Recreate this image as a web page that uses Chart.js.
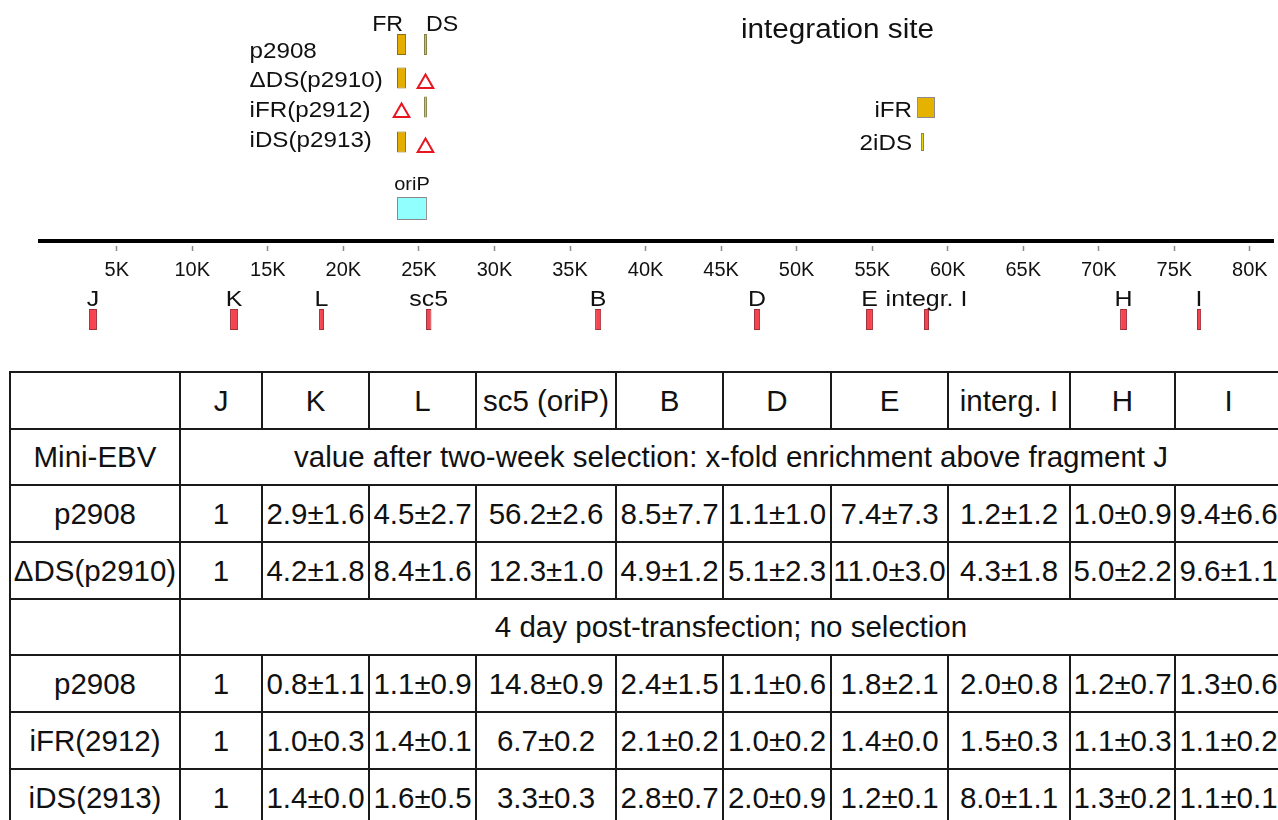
<!DOCTYPE html>
<html>
<head>
<meta charset="utf-8">
<script src="https://cdn.jsdelivr.net/npm/chart.js@4/dist/chart.umd.min.js"></script>
<style>
  html, body { margin: 0; padding: 0; background: #fff; width: 1278px; height: 820px; overflow: hidden; }
  #mapBox { position: absolute; left: 0; top: 0; width: 1278px; height: 350px; }
  #tbl { position: absolute; left: 9px; top: 371px; border-collapse: collapse; table-layout: fixed;
         font-family: "Liberation Sans", Arial, Helvetica, sans-serif; font-size: 29.5px; color: #111; }
  #tbl td { border: 2px solid #1a1a1a; padding: 0; text-align: center; vertical-align: middle;
            white-space: nowrap; overflow: visible; }
</style>
</head>
<body>
<div id="mapBox"><canvas id="map"></canvas></div>
<table id="tbl"></table>
<script>
// ---------------- data: genome map (positions in kb) ----------------
const tickValuesK = [5, 10, 15, 20, 25, 30, 35, 40, 45, 50, 55, 60, 65, 70, 75, 80];
const tickLabels  = ['5K','10K','15K','20K','25K','30K','35K','40K','45K','50K','55K','60K','65K','70K','75K','80K'];

const fragmentNames  = ['J', 'K', 'L', 'sc5', 'B', 'D', 'E', 'integr. I', 'H', 'I'];
const fragmentStartK = [3.16, 12.50, 18.39, 25.47, 36.66, 47.18, 54.59, 58.43, 71.41, 76.50];
const fragmentEndK   = [3.69, 13.03, 18.72, 25.83, 37.06, 47.58, 55.05, 58.76, 71.87, 76.77];

const constructNames = ['p2908', '\u0394DS(p2910)', 'iFR(p2912)', 'iDS(p2913)'];
const frPresent      = [true, true, false, true];
const dsPresent      = [true, false, true, false];

const frRangeK   = [23.55, 24.15];
const dsRangeK   = [25.34, 25.53];
const oriPRangeK = [23.55, 25.53];
const siteFRRangeK  = [57.97, 59.16];
const site2iDSRangeK = [58.23, 58.43];

// ---------------- data: enrichment table ----------------
const tableColumns = ['J', 'K', 'L', 'sc5 (oriP)', 'B', 'D', 'E', 'interg. I', 'H', 'I'];
const selectionTitle = 'value after two-week selection: x-fold enrichment above fragment J';
const transientTitle = '4 day post-transfection; no selection';
const selectionRows = ['p2908', '\u0394DS(p2910)'];
const selectionMean = [
  [1, 2.9, 4.5, 56.2, 8.5, 1.1, 7.4, 1.2, 1.0, 9.4],
  [1, 4.2, 8.4, 12.3, 4.9, 5.1, 11.0, 4.3, 5.0, 9.6]
];
const selectionSD = [
  [null, 1.6, 2.7, 2.6, 7.7, 1.0, 7.3, 1.2, 0.9, 6.6],
  [null, 1.8, 1.6, 1.0, 1.2, 2.3, 3.0, 1.8, 2.2, 1.1]
];
const transientRows = ['p2908', 'iFR(2912)', 'iDS(2913)'];
const transientMean = [
  [1, 0.8, 1.1, 14.8, 2.4, 1.1, 1.8, 2.0, 1.2, 1.3],
  [1, 1.0, 1.4, 6.7, 2.1, 1.0, 1.4, 1.5, 1.1, 1.1],
  [1, 1.4, 1.6, 3.3, 2.8, 2.0, 1.2, 8.0, 1.3, 1.1]
];
const transientSD = [
  [null, 1.1, 0.9, 0.9, 1.5, 0.6, 2.1, 0.8, 0.7, 0.6],
  [null, 0.3, 0.1, 0.2, 0.2, 0.2, 0.0, 0.3, 0.3, 0.2],
  [null, 0.0, 0.5, 0.3, 0.7, 0.9, 0.1, 1.1, 0.2, 0.1]
];

// ---------------- layout (vertical lanes, in y-scale units) ----------------
const FONT = '"Liberation Sans", Arial, Helvetica, sans-serif';
const LAYOUT = {
  height: 350,
  axisY: 241.3,
  constructLaneY: [44.5, 78, 107, 142],
  constructBaseline: [58.3, 86.8, 117.3, 147.3],
  deletionOffset: 5.5,
  oriPLaneY: 208.5,
  oriPBaseline: 190,
  frdsBaseline: 31,
  siteFRLaneY: 107.5,
  site2iDSLaneY: 142,
  siteFRBaseline: 116.5,
  site2iDSBaseline: 150,
  siteTitleBaseline: 37.5,
  siteTitleCenterPx: 837.5,
  rowLabelLeftPx: 249.5,
  fragLaneY: 319.5,
  fragBaseline: 305.5
};

const COLORS = {
  fr: '#E3AE00', frBorder: '#8A6E12',
  ds: '#CFC41A', dsBorder: '#7C7A3A',
  siteFR: '#E5B200', siteFRBorder: '#8C8C8C',
  site2iDS: '#E6D800', site2iDSBorder: '#8A8A40',
  oriP: '#92FFFF', oriPBorder: '#8A8A8A',
  frag: '#F4444F', fragBorder: '#A0303A',
  del: '#E8141F'
};

// ---------------- build datasets from data ----------------
const L = LAYOUT;
const frData = [], dsData = [], delData = [];
constructNames.forEach((n, i) => {
  const lane = L.constructLaneY[i];
  if (frPresent[i]) frData.push({ y: lane, x: frRangeK.slice() });
  else delData.push({ x: (frRangeK[0] + frRangeK[1]) / 2, y: lane + L.deletionOffset });
  if (dsPresent[i]) dsData.push({ y: lane, x: dsRangeK.slice() });
  else delData.push({ x: (dsRangeK[0] + dsRangeK[1]) / 2, y: lane + L.deletionOffset });
});
const fragData = fragmentNames.map((n, i) => ({ y: L.fragLaneY, x: [fragmentStartK[i], fragmentEndK[i]] }));

function barSet(label, data, fill, border, thick) {
  return {
    type: 'bar', label, data, indexAxis: 'y', grouped: false,
    backgroundColor: fill, borderColor: border, borderWidth: 1, borderSkipped: false,
    barThickness: thick, inflateAmount: 0
  };
}

function stretchedText(ctx, text, px, py, align, stretch) {
  ctx.save();
  ctx.translate(px, py);
  ctx.scale(stretch, 1);
  ctx.textAlign = align;
  ctx.fillText(text, 0, 0);
  ctx.restore();
}

const labelPlugin = {
  id: 'mapLabels',
  afterDraw(chart) {
    const ctx = chart.ctx, xs = chart.scales.x, ys = chart.scales.y;
    ctx.save();
    ctx.fillStyle = '#111';
    ctx.textBaseline = 'alphabetic';
    ctx.font = '22px ' + FONT;
    constructNames.forEach((n, i) =>
      stretchedText(ctx, n, L.rowLabelLeftPx, ys.getPixelForValue(L.constructBaseline[i]), 'left', 1.1));
    ctx.font = '21.5px ' + FONT;
    stretchedText(ctx, 'FR', xs.getPixelForValue(frRangeK[1]) - 3, ys.getPixelForValue(L.frdsBaseline), 'right', 1.08);
    stretchedText(ctx, 'DS', xs.getPixelForValue(dsRangeK[0]) + 2, ys.getPixelForValue(L.frdsBaseline), 'left', 1.08);
    ctx.font = '18.5px ' + FONT;
    stretchedText(ctx, 'oriP', xs.getPixelForValue((oriPRangeK[0] + oriPRangeK[1]) / 2), ys.getPixelForValue(L.oriPBaseline), 'center', 1.08);
    ctx.font = '27px ' + FONT;
    stretchedText(ctx, 'integration site', L.siteTitleCenterPx, ys.getPixelForValue(L.siteTitleBaseline), 'center', 1.1);
    ctx.font = '22px ' + FONT;
    const siteLeft = xs.getPixelForValue(siteFRRangeK[0]) - 5;
    stretchedText(ctx, 'iFR', siteLeft, ys.getPixelForValue(L.siteFRBaseline), 'right', 1.1);
    stretchedText(ctx, '2iDS', siteLeft, ys.getPixelForValue(L.site2iDSBaseline), 'right', 1.1);
    ctx.font = '21.5px ' + FONT;
    fragmentNames.forEach((n, i) =>
      stretchedText(ctx, n, xs.getPixelForValue((fragmentStartK[i] + fragmentEndK[i]) / 2), ys.getPixelForValue(L.fragBaseline), 'center', 1.16));
    ctx.restore();
  }
};

new Chart(document.getElementById('map'), {
  type: 'bar',
  data: {
    datasets: [
      barSet('oriP', [{ y: L.oriPLaneY, x: oriPRangeK.slice() }], COLORS.oriP, COLORS.oriPBorder, 23),
      barSet('FR', frData, COLORS.fr, COLORS.frBorder, 21),
      barSet('DS', dsData, COLORS.ds, COLORS.dsBorder, 21),
      barSet('iFR site', [{ y: L.siteFRLaneY, x: siteFRRangeK.slice() }], COLORS.siteFR, COLORS.siteFRBorder, 21),
      barSet('2iDS site', [{ y: L.site2iDSLaneY, x: site2iDSRangeK.slice() }], COLORS.site2iDS, COLORS.site2iDSBorder, 18),
      barSet('fragments', fragData, COLORS.frag, COLORS.fragBorder, 21),
      {
        type: 'scatter', label: 'deleted', data: delData,
        pointStyle: 'triangle', pointRadius: 9, pointBorderWidth: 2,
        pointBackgroundColor: 'rgba(255,255,255,0)', pointBorderColor: COLORS.del
      }
    ]
  },
  options: {
    responsive: true, maintainAspectRatio: false, animation: false, events: [],
    layout: { autoPadding: false, padding: { left: 40, right: 5, top: 0, bottom: 0 } },
    plugins: { legend: { display: false }, tooltip: { enabled: false } },
    scales: {
      x: {
        type: 'linear', min: -0.08, max: 81.53, offset: false,
        position: { y: L.axisY },
        afterBuildTicks: (s) => { s.ticks = tickValuesK.map(v => ({ value: v })); },
        border: { display: true, color: '#000', width: 4 },
        grid: { offset: false, drawOnChartArea: false, drawTicks: true, tickLength: 8, tickColor: '#8a8a8a',
                tickWidth: 1.5, tickBorderDash: [0, 3, 5, 40] },
        ticks: { autoSkip: false, maxRotation: 0, minRotation: 0, padding: 9, color: '#111',
                 font: { size: 20, family: FONT },
                 callback: (v, i) => tickLabels[i] }
      },
      y: { type: 'linear', min: 0, max: L.height, reverse: true, display: false, offset: false,
           grid: { offset: false } }
    }
  },
  plugins: [labelPlugin]
});

// ---------------- table ----------------
const colWidths = [170, 82, 107, 107, 140, 107, 108, 117, 122, 105, 107];
const rowHeights = [57, 56, 57, 57, 56, 57, 57, 57];
const tbl = document.getElementById('tbl');
tbl.style.width = colWidths.reduce((a, b) => a + b, 0) + 'px';
const cg = document.createElement('colgroup');
colWidths.forEach(w => { const c = document.createElement('col'); c.style.width = w + 'px'; cg.appendChild(c); });
tbl.appendChild(cg);
let rowIdx = 0;
function addRow(cells) {
  const tr = document.createElement('tr');
  tr.style.height = rowHeights[rowIdx++] + 'px';
  cells.forEach(c => {
    const td = document.createElement('td');
    td.textContent = c.text;
    if (c.span) td.colSpan = c.span;
    tr.appendChild(td);
  });
  tbl.appendChild(tr);
}
function fmt(m, s) { return s === null ? String(m) : m.toFixed(1) + '\u00B1' + s.toFixed(1); }
addRow([{ text: '' }].concat(tableColumns.map(t => ({ text: t }))));
addRow([{ text: 'Mini-EBV' }, { text: selectionTitle, span: tableColumns.length }]);
selectionRows.forEach((r, i) => addRow([{ text: r }].concat(selectionMean[i].map((m, j) => ({ text: fmt(m, selectionSD[i][j]) })))));
addRow([{ text: '' }, { text: transientTitle, span: tableColumns.length }]);
transientRows.forEach((r, i) => addRow([{ text: r }].concat(transientMean[i].map((m, j) => ({ text: fmt(m, transientSD[i][j]) })))));
</script>
</body>
</html>
